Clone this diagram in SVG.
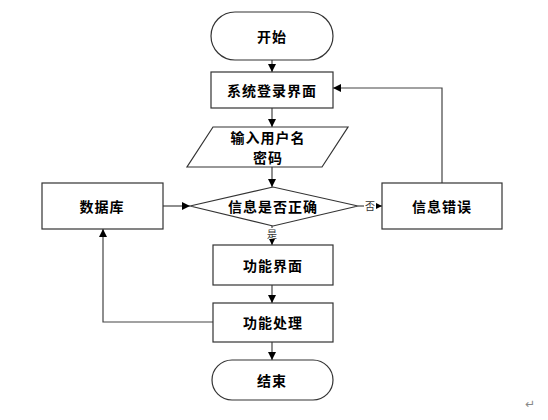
<svg xmlns="http://www.w3.org/2000/svg" width="548" height="420" viewBox="0 0 548 420">
<defs>
<marker id="ah" viewBox="0 0 10 10" refX="10" refY="5" markerWidth="8" markerHeight="8" markerUnits="userSpaceOnUse" orient="auto">
<path d="M0,0 L10,5 L0,10 z" fill="#000"/>
</marker>
</defs>
<style>
.s{fill:#fff;stroke:#333;stroke-width:1.2}
.t{font-family:"Noto Sans CJK SC","Liberation Serif",serif;font-size:14px;font-weight:bold;fill:#000;text-anchor:middle;dominant-baseline:central;letter-spacing:1px}
.l{font-family:"Noto Sans CJK SC","Liberation Serif",serif;font-size:10px;fill:#333;text-anchor:middle;dominant-baseline:central}
.c{fill:none;stroke:#444;stroke-width:1.2;marker-end:url(#ah)}
.n{fill:none;stroke:#444;stroke-width:1.2}
.bg{fill:#fff}
</style>
<rect width="548" height="420" fill="#fff"/>
<g id="connectors">
<path class="c" d="M272,60 V72"/>
<path class="c" d="M272,108 V127"/>
<path class="c" d="M272,167 V187"/>
<path class="c" d="M272,226 V245"/>
<path class="c" d="M272,285 V303"/>
<path class="c" d="M272,342 V360"/>
<path class="c" d="M163,206 H190"/>
<path class="c" d="M358,206 H382"/>
<path class="c" d="M442,183 V88 H333"/>
<path class="c" d="M213,322 H103 V229"/>
<rect class="bg" x="364" y="199" width="12" height="13"/>
<text class="l" x="370" y="205">否</text>
<rect class="bg" x="266" y="228" width="12" height="11"/>
<text class="l" x="272" y="233">是</text>
</g>
<g id="start"><rect class="s" x="211" y="12" width="122" height="48" rx="24" ry="24"/><text class="t" x="272" y="36">开始</text></g>
<g id="login"><rect class="s" x="211" y="72" width="122" height="36"/><text class="t" x="272" y="90">系统登录界面</text></g>
<g id="input"><path class="s" d="M213,127 H348 L322,167 H187 Z"/><text class="t" x="268" y="137">输入用户名</text><text class="t" x="268" y="157">密码</text></g>
<g id="check"><path class="s" d="M190,206 L273,187 L358,206 L273,226 Z"/><text class="t" x="273" y="206">信息是否正确</text></g>
<g id="db"><rect class="s" x="42" y="183" width="121" height="46"/><text class="t" x="102" y="206">数据库</text></g>
<g id="error"><rect class="s" x="382" y="183" width="120" height="46"/><text class="t" x="442" y="206">信息错误</text></g>
<g id="func"><rect class="s" x="213" y="245" width="120" height="40"/><text class="t" x="273" y="265">功能界面</text></g>
<g id="proc"><rect class="s" x="213" y="303" width="120" height="39"/><text class="t" x="273" y="322">功能处理</text></g>
<g id="end"><rect class="s" x="212" y="360" width="121" height="40" rx="20" ry="20"/><text class="t" x="272" y="380">结束</text></g>
<text x="530" y="404" style="font-family:'DejaVu Sans',sans-serif;font-size:12px;fill:#888;text-anchor:middle;dominant-baseline:central">↵</text>
</svg>
